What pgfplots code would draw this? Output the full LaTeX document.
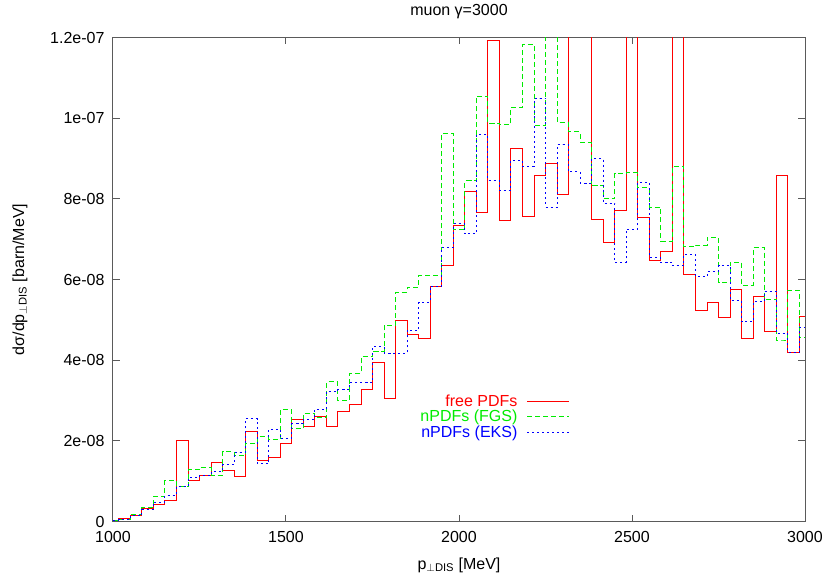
\documentclass[border=0pt]{standalone}
\usepackage{pgfplots}
\pgfplotsset{compat=1.18}
\usepackage{pgfplotstable}
\usepackage{fontspec}
\setmainfont{Liberation Sans}
\definecolor{gpred}{RGB}{255,0,0}
\definecolor{gpgreen}{RGB}{0,235,0}
\definecolor{gpblue}{RGB}{0,0,255}
\definecolor{gpborder}{RGB}{90,90,90}
\pgfplotsset{legend image code/.code={\draw[#1] (0pt,0pt) -- (42pt,0pt);}}
% values in units of 1e-8 barn/MeV
\pgfplotstableread{
x       free  fgs   eks
1000.00 0.02  0.02  0.02
1033.33 0.08  0.06  0.04
1066.67 0.14  0.18  0.14
1100.00 0.33  0.34  0.30
1133.33 0.43  0.62  0.48
1166.67 0.53  1.01  0.65
1200.00 2.00  0.87  0.87
1233.33 1.03  1.28  1.08
1266.67 1.15  1.33  1.13
1300.00 1.47  1.15  1.24
1333.33 1.27  1.73  1.41
1366.67 1.11  1.64  1.71
1400.00 2.23  1.94  2.55
1433.33 1.51  2.11  1.43
1466.67 1.60  2.04  2.29
1500.00 1.94  2.78  2.05
1533.33 2.53  2.30  2.42
1566.67 2.36  2.67  2.53
1600.00 2.61  2.57  2.78
1633.33 2.36  3.46  3.23
1666.67 2.73  3.00  3.27
1700.00 2.91  3.68  3.45
1733.33 3.27  4.08  3.45
1766.67 3.94  4.21  4.33
1800.00 3.06  4.87  4.17
1833.33 4.98  5.69  4.17
1866.67 4.63  5.80  4.73
1900.00 4.53  6.10  5.44
1933.33 5.82  6.10  5.82
1966.67 6.35  9.62  6.80
2000.00 7.35  7.23  7.38
2033.33 8.19  8.45  7.13
2066.67 7.66  10.55 9.59
2100.00 11.92 9.86  8.46
2133.33 7.46  9.84  8.21
2166.67 9.24  10.26 8.96
2200.00 7.56  11.83 8.81
2233.33 8.58  9.81  10.49
2266.67 8.88  14.00 7.79
2300.00 8.10  9.89  9.35
2333.33 14.00 9.66  8.67
2366.67 14.00 9.40  8.39
2400.00 7.48  8.32  9.00
2433.33 6.93  8.00  7.89
2466.67 7.72  8.63  6.42
2500.00 14.00 8.65  7.24
2533.33 7.55  8.27  8.41
2566.67 6.46  7.79  6.55
2600.00 6.69  6.95  6.42
2633.33 14.00 8.81  6.34
2666.67 6.12  6.81  6.62
2700.00 5.24  6.85  6.07
2733.33 5.43  7.05  6.20
2766.67 5.05  5.93  6.35
2800.00 5.76  6.43  5.48
2833.33 4.53  5.86  4.95
2866.67 5.58  6.79  5.46
2900.00 4.71  5.51  5.71
2933.33 8.58  4.50  4.67
2966.67 4.20  5.74  4.20
3000.00 5.08  4.57  4.82
}\histdata

\newcommand{\gpfont}{\fontsize{16}{18}\selectfont}

\begin{document}
\begin{tikzpicture}
\useasboundingbox (-113pt,-59.5pt) rectangle (709pt,521.5pt);
\begin{axis}[
  scale only axis,
  width=692pt, height=484pt,
  xmin=1000, xmax=3000, ymin=0, ymax=12,
  xtick={1000,1500,2000,2500,3000},
  xticklabels={1000,1500,2000,2500,3000},
  ytick={0,2,4,6,8,10,12},
  yticklabels={0,2e-08,4e-08,6e-08,8e-08,1e-07,1.2e-07},
  tick align=inside,
  major tick length=7pt,
  axis line style={gpborder, line width=1pt},
  every tick/.style={gpborder, line width=1pt},
  tick label style={font=\gpfont, text=black},
  xticklabel style={yshift=-6.5pt},
  yticklabel style={xshift=-5pt},
  title={muon γ=3000},
  every axis title shift=0pt,
  title style={font=\gpfont, at={(axis description cs:0.5,1.0527)}, anchor=center},
  xlabel={p\textsubscript{$\perp$DIS} [MeV]},
  ylabel={dσ/dp\textsubscript{$\perp$DIS} [barn/MeV]},
  every axis x label/.style={font=\gpfont, at={(axis description cs:0.5,-0.0899)}, anchor=center},
  every axis y label/.style={font=\gpfont, at={(axis description cs:-0.1344,0.5)}, rotate=90, anchor=center},
  legend plot pos=right,
  legend cell align=right,
  legend style={at={(axis cs:2321,3.17)}, anchor=north east, draw=none, fill=none,
    inner sep=0pt, font=\gpfont, row sep=1.5pt, column sep=9pt, nodes={inner sep=0.6pt}},
]
\addplot[const plot mark mid, gpred, line width=0.9pt, no marks]
  table[x=x, y=free] {\histdata};
\addlegendentry{\textcolor{gpred}{free PDFs}}
\addplot[const plot mark mid, gpgreen, line width=0.9pt, no marks, dash pattern=on 5pt off 3pt]
  table[x=x, y=fgs] {\histdata};
\addlegendentry{\textcolor{gpgreen}{nPDFs (FGS)}}
\addplot[const plot mark mid, gpblue, line width=0.9pt, no marks, dash pattern=on 2pt off 3pt]
  table[x=x, y=eks] {\histdata};
\addlegendentry{\textcolor{gpblue}{nPDFs (EKS)}}
\end{axis}
\end{tikzpicture}
\end{document}
